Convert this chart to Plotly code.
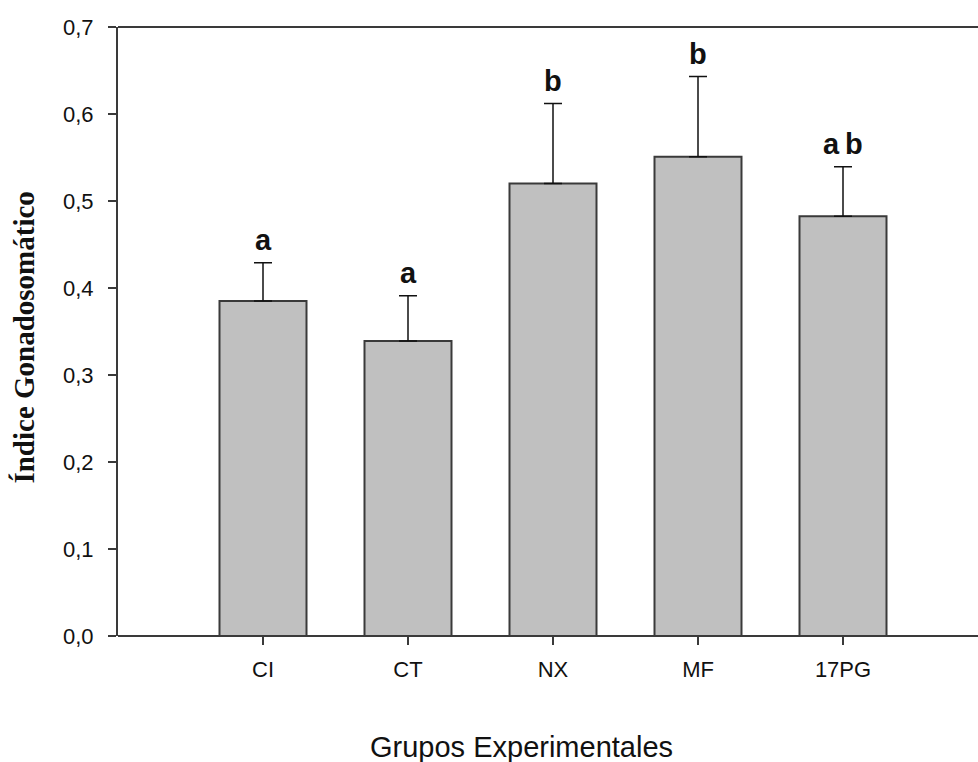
import plotly.graph_objects as go

grupos = ["CI", "CT", "NX", "MF", "17PG"]
indice = [0.385, 0.339, 0.520, 0.551, 0.4825]
error_sup = [0.044, 0.052, 0.092, 0.092, 0.057]
letras = ["a", "a", "b", "b", "a\u2009b"]

x_pos = list(range(len(grupos)))
tops = [v + e for v, e in zip(indice, error_sup)]

AXIS = "#3a3a3a"
SANS = "Liberation Sans, Arial"
PLOT_W = 830          # plot-area width in px
RIGHT_PAD = 30        # frame lines run on past the plot area to the page edge
x_end = 1 + RIGHT_PAD / PLOT_W

fig = go.Figure()
fig.add_trace(go.Bar(
    x=x_pos, y=indice, width=0.6,
    marker=dict(color="#c0c0c0", line=dict(color="#3a3a3a", width=2)),
    error_y=dict(type="data", symmetric=False, array=error_sup,
                 arrayminus=[0] * len(indice), color="#111111",
                 thickness=1.5, width=9),
    showlegend=False,
))

# significance letters above each error bar
for xi, t, lab in zip(x_pos, tops, letras):
    fig.add_annotation(x=xi, y=t, text=f"<b>{lab}</b>", showarrow=False,
                       yanchor="bottom", yshift=5,
                       font=dict(family=SANS, size=29, color="#111"))

fig.add_annotation(xref="paper", yref="paper", x=(521 - 118) / PLOT_W, y=-0.183,
                   text="Grupos Experimentales", showarrow=False,
                   yanchor="middle", xanchor="center",
                   font=dict(family=SANS, size=29, color="#111"))
fig.add_annotation(xref="paper", yref="paper", x=(24 - 118) / PLOT_W, y=0.49,
                   text="<b>Índice Gonadosomático</b>", showarrow=False,
                   textangle=-90, xanchor="center", yanchor="middle",
                   font=dict(family="Liberation Serif, Times New Roman", size=29, color="#111"))

# open frame: top line and bottom axis line both run to the right edge
for yy in (0, 1):
    fig.add_shape(type="line", xref="paper", yref="paper", x0=0, x1=x_end,
                  y0=yy, y1=yy, line=dict(color=AXIS, width=2))

fig.update_layout(
    width=978, height=762,
    margin=dict(l=118, r=RIGHT_PAD, t=27, b=126),
    plot_bgcolor="white", paper_bgcolor="white",
    separators=",.",
)
fig.update_xaxes(
    range=[-1, -1 + PLOT_W / 145], tickvals=x_pos, ticktext=grupos,
    showline=False,
    ticks="outside", ticklen=8, tickcolor=AXIS, tickwidth=1.5, showgrid=False,
    zeroline=False, ticklabelstandoff=6,
    tickfont=dict(family=SANS, size=22, color="#111"),
)
fig.update_yaxes(
    range=[0, 0.7], tickvals=[0, 0.1, 0.2, 0.3, 0.4, 0.5, 0.6, 0.7],
    tickformat=".1f",
    showline=True, linecolor=AXIS, linewidth=2,
    ticks="outside", ticklen=8, tickcolor=AXIS, tickwidth=1.5, showgrid=False,
    zeroline=False, ticklabelstandoff=10,
    tickfont=dict(family=SANS, size=22, color="#111"),
)

fig.write_html("out.html")
